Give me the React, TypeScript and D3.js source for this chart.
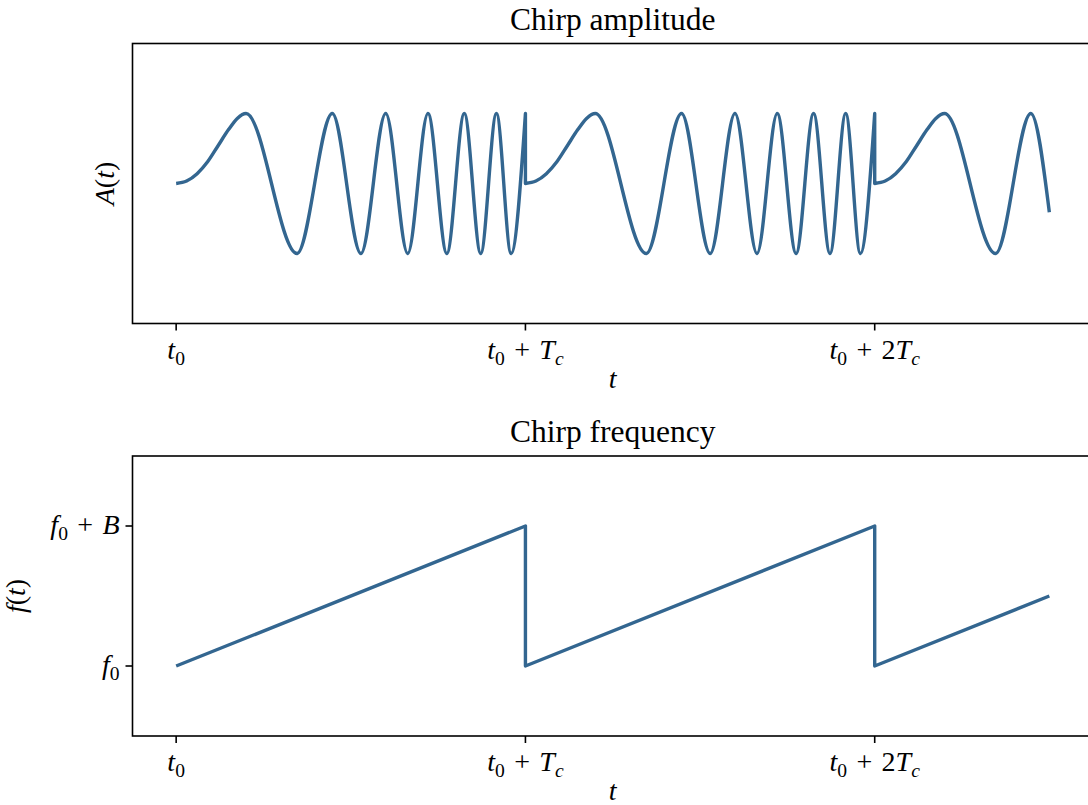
import React from "react";
import * as d3 from "d3";

// ---- data (time in units of Tc after t0) ----
const ampT = [0, 0.03, 0.06, 0.09, 0.12, 0.15, 0.175, 0.2, 0.346, 0.447, 0.529, 0.6, 0.663, 0.721, 0.775, 0.825, 0.872, 0.917, 0.959, 1.0,
  1.0, 1.03, 1.06, 1.09, 1.12, 1.15, 1.175, 1.2, 1.346, 1.447, 1.529, 1.6, 1.663, 1.721, 1.775, 1.825, 1.872, 1.917, 1.959, 2.0,
  2.0, 2.03, 2.06, 2.09, 2.12, 2.15, 2.175, 2.2, 2.346, 2.447, 2.5];
const ampA = [0, 0.035, 0.14, 0.31, 0.54, 0.77, 0.93, 1, -1, 1, -1, 1, -1, 1, -1, 1, -1, 1, -1, 1,
  0, 0.035, 0.14, 0.31, 0.54, 0.77, 0.93, 1, -1, 1, -1, 1, -1, 1, -1, 1, -1, 1, -1, 1,
  0, 0.035, 0.14, 0.31, 0.54, 0.77, 0.93, 1, -1, 1, -0.41];

const freqT = [0, 1, 1, 2, 2, 2.5];
const freqF = [0, 1, 0, 1, 0, 0.5];

const xTickValues = [0, 1, 2];
type Piece = [string, string];
const PLUS = " \u200A+\u200A ";
const xTickLabels: Piece[][] = [
  [["t", "i"], ["0", "sub"]],
  [["t", "i"], ["0", "sub"], [PLUS, "r"], ["T", "i"], ["c", "subi"]],
  [["t", "i"], ["0", "sub"], [PLUS + "2", "r"], ["T", "i"], ["c", "subi"]],
];
const fTickValues = [0, 1];
const fTickLabels: Piece[][] = [
  [["f", "i"], ["0", "sub"]],
  [["f", "i"], ["0", "sub"], [PLUS, "r"], ["B", "i"]],
];

const titles = ["Chirp amplitude", "Chirp frequency"];

const COLOR = "#336690";
const FONT = "'Liberation Serif', 'Times New Roman', serif";

function MathText({ pieces, x, y, anchor, size, transform }: { pieces: Piece[]; x: number; y: number; anchor: string; size: number; transform?: string }) {
  let shift = 0;
  const sub = Math.round(size * 0.22);
  return (
    <text x={x} y={y} textAnchor={anchor} fontSize={size} fontFamily={FONT} transform={transform} style={{ whiteSpace: "pre" }}>
      {pieces.map(([txt, kind], i) => {
        const isSub = kind === "sub" || kind === "subi";
        const want = isSub ? sub : 0;
        const dy = want - shift;
        shift = want;
        return (
          <tspan key={i} dy={dy} fontStyle={kind === "i" || kind === "subi" ? "italic" : "normal"} fontSize={isSub ? size * 0.7 : size}>
            {txt}
          </tspan>
        );
      })}
    </text>
  );
}

export default function App() {
  const W = 1088, H = 805;
  const left = 132.5, right = 1093;
  const x = d3.scaleLinear().domain([-0.125, 2.625]).range([left, right]);
  const top1 = 43.5, bot1 = 323.5;
  const top2 = 456, bot2 = 736;
  const yA = d3.scaleLinear().domain([-2, 2]).range([bot1, top1]);
  const yF = d3.scaleLinear().domain([-0.5, 1.5]).range([bot2, top2]);

  // amplitude path: split into runs where t repeats, smooth each, join with vertical steps
  const runs: [number, number][][] = [];
  let cur: [number, number][] = [];
  ampT.forEach((t, i) => {
    if (i > 0 && t === ampT[i - 1]) {
      runs.push(cur);
      cur = [];
    }
    cur.push([t, ampA[i]]);
  });
  runs.push(cur);
  const ampLine = d3.line<[number, number]>().x((d) => x(d[0])).y((d) => yA(d[1])).curve(d3.curveMonotoneX);
  const ampPath = runs.map((r, i) => {
    const p = ampLine(r) || "";
    return i === 0 ? p : "L" + p.slice(1);
  }).join("");

  const freqLine = d3.line<number>().x((_, i) => x(freqT[i])).y((d) => yF(d));
  const freqPath = freqLine(freqF) || "";

  const tickLen = 7;
  const tickSize = 28;
  const titleSize = 31.5;

  const axisX = (bot: number) => (
    <g>
      {xTickValues.map((v, i) => (
        <g key={i}>
          <line x1={x(v)} x2={x(v)} y1={bot} y2={bot + tickLen} stroke="#000" strokeWidth={1.6} />
          <MathText pieces={xTickLabels[i]} x={x(v)} y={bot + 35} anchor="middle" size={tickSize} />
        </g>
      ))}
      <text x={(left + right) / 2} y={bot + 64} textAnchor="middle" fontSize={tickSize} fontFamily={FONT} fontStyle="italic">t</text>
    </g>
  );

  return (
    <div>
      <style>{`body{margin:0}`}</style>
      <svg width={W} height={H} style={{ display: "block", background: "#fff" }}>
        {/* top panel */}
        <text x={(left + right) / 2} y={top1 - 14} textAnchor="middle" fontSize={titleSize} fontFamily={FONT}>{titles[0]}</text>
        <path d={ampPath} fill="none" stroke={COLOR} strokeWidth={3.4} strokeLinejoin="round" strokeLinecap="butt" />
        <rect x={left} y={top1} width={right - left} height={bot1 - top1} fill="none" stroke="#000" strokeWidth={1.6} />
        {axisX(bot1)}
        <MathText pieces={[["A", "i"], ["(", "r"], ["t", "i"], [")", "r"]]} x={0} y={0} anchor="middle" size={tickSize}
          transform={`translate(114,${(top1 + bot1) / 2}) rotate(-90)`} />

        {/* bottom panel */}
        <text x={(left + right) / 2} y={top2 - 14} textAnchor="middle" fontSize={titleSize} fontFamily={FONT}>{titles[1]}</text>
        <path d={freqPath} fill="none" stroke={COLOR} strokeWidth={3.4} strokeLinejoin="round" />
        <rect x={left} y={top2} width={right - left} height={bot2 - top2} fill="none" stroke="#000" strokeWidth={1.6} />
        {axisX(bot2)}
        {fTickValues.map((v, i) => (
          <g key={i}>
            <line x1={left - tickLen} x2={left} y1={yF(v)} y2={yF(v)} stroke="#000" strokeWidth={1.6} />
            <MathText pieces={fTickLabels[i]} x={left - 13} y={yF(v) + 8} anchor="end" size={tickSize} />
          </g>
        ))}
        <MathText pieces={[["f", "i"], ["(", "r"], ["t", "i"], [")", "r"]]} x={0} y={0} anchor="middle" size={tickSize}
          transform={`translate(25,${(top2 + bot2) / 2}) rotate(-90)`} />
      </svg>
    </div>
  );
}
